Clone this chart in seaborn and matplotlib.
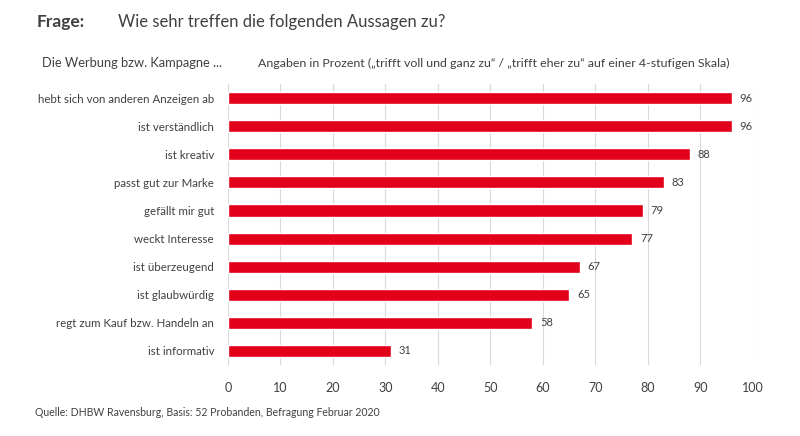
import matplotlib
matplotlib.use("Agg")
import matplotlib.pyplot as plt
import seaborn as sns
import pandas as pd

# Data
statements = [
    "hebt sich von anderen Anzeigen ab",
    "ist verständlich",
    "ist kreativ",
    "passt gut zur Marke",
    "gefällt mir gut",
    "weckt Interesse",
    "ist überzeugend",
    "ist glaubwürdig",
    "regt zum Kauf bzw. Handeln an",
    "ist informativ",
]
percent = [96, 96, 88, 83, 79, 77, 67, 65, 58, 31]
x_ticks = [0, 10, 20, 30, 40, 50, 60, 70, 80, 90, 100]

df = pd.DataFrame({"Aussage": statements, "Prozent": percent})

sns.set_style("white")
plt.rcParams["font.family"] = ["Lato", "DejaVu Sans"]
text_color = "#404040"

fig = plt.figure(figsize=(8, 4.36), dpi=100)
ax = fig.add_axes([0.285, 0.163, 0.656, 0.644])

sns.barplot(data=df, x="Prozent", y="Aussage", color="#E2001A", width=0.43,
            saturation=1, ax=ax, zorder=3)

# value labels next to the bars
for i, v in enumerate(percent):
    ax.text(v + 1.5, i, str(v), va="center", ha="left", fontsize=8, color=text_color)

ax.set_xlim(0, 100)
ax.set_xticks(x_ticks)
ax.set_ylim(9.5, -0.5)
ax.grid(axis="x", color="#d9d9d9", linewidth=0.8, zorder=0)
ax.set_xlabel("")
ax.set_ylabel("")
sns.despine(ax=ax, left=True, bottom=True)
ax.tick_params(axis="both", length=0, labelcolor=text_color)
ax.tick_params(axis="x", pad=12, labelsize=9)
ax.tick_params(axis="y", pad=10, labelsize=8.3)

# Headings and source
fig.text(37 / 800, 1 - 22 / 436, "Frage:", fontsize=12.5, fontweight="bold",
         color=text_color, va="center")
fig.text(118 / 800, 1 - 22 / 436, "Wie sehr treffen die folgenden Aussagen zu?",
         fontsize=12, color=text_color, va="center")
fig.text(222 / 800, 1 - 63 / 436, "Die Werbung bzw. Kampagne ...", fontsize=9.3,
         color=text_color, va="center", ha="right")
fig.text(258 / 800, 1 - 63 / 436,
         "Angaben in Prozent („trifft voll und ganz zu“ / „trifft eher zu“ auf einer 4-stufigen Skala)",
         fontsize=8.9, color=text_color, va="center")
fig.text(35 / 800, 1 - 412 / 436,
         "Quelle: DHBW Ravensburg, Basis: 52 Probanden, Befragung Februar 2020",
         fontsize=7.6, color=text_color, va="center")

fig.savefig("out.png", dpi=100)
